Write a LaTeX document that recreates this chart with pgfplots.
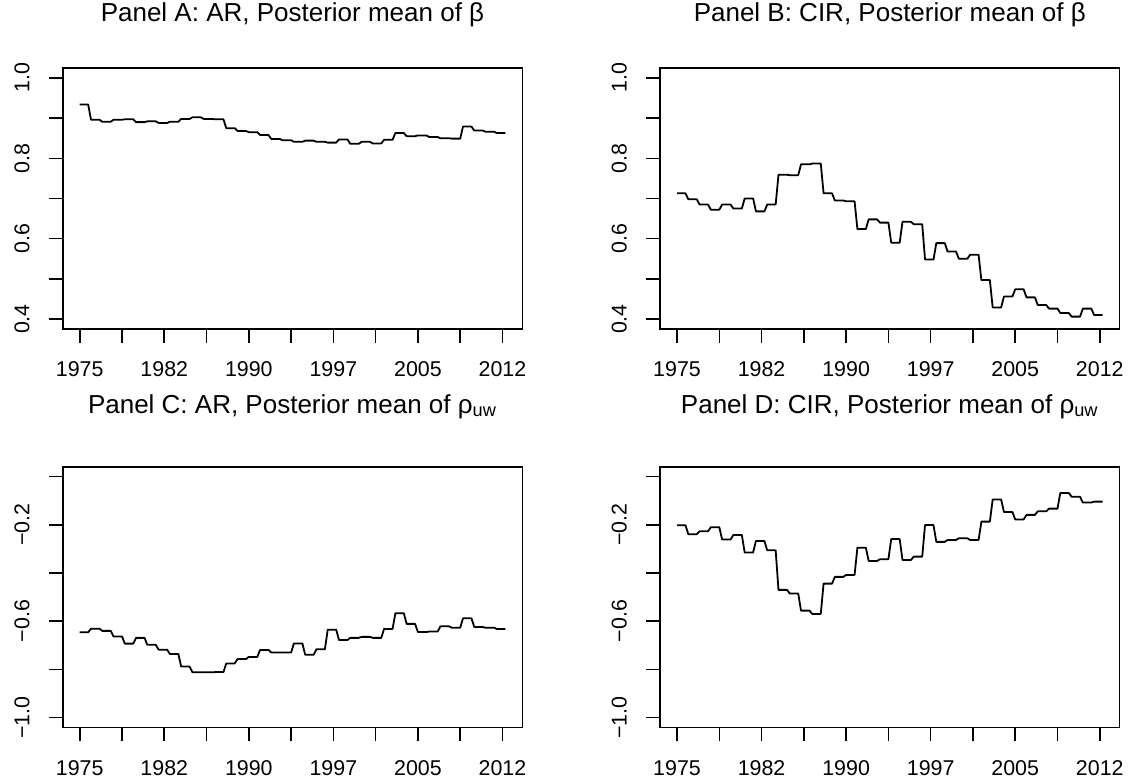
\documentclass[border=0pt]{standalone}
\usepackage{fontspec}
\setmainfont{Liberation Sans}
\usepackage{pgfplots}
\pgfplotsset{compat=1.18}
\usepackage{pgfplotstable}

% quarterly index 1..152 (1975Q1-2012Q4), posterior means change once a year
\pgfplotstableread{
x y
1 0.934
4 0.934
5 0.896
8 0.896
9 0.891
12 0.891
13 0.896
16 0.896
17 0.897
20 0.897
21 0.890
24 0.890
25 0.892
28 0.892
29 0.888
32 0.888
33 0.891
36 0.891
37 0.898
40 0.898
41 0.902
44 0.902
45 0.898
48 0.898
49 0.897
52 0.897
53 0.875
56 0.875
57 0.868
60 0.868
61 0.865
64 0.865
65 0.858
68 0.858
69 0.848
72 0.848
73 0.845
76 0.845
77 0.841
80 0.841
81 0.844
84 0.844
85 0.841
88 0.841
89 0.839
92 0.839
93 0.847
96 0.847
97 0.836
100 0.836
101 0.841
104 0.841
105 0.837
108 0.837
109 0.846
112 0.846
113 0.863
116 0.863
117 0.855
120 0.855
121 0.857
124 0.857
125 0.853
128 0.853
129 0.850
132 0.850
133 0.849
136 0.849
137 0.879
140 0.879
141 0.869
144 0.869
145 0.866
148 0.866
149 0.863
152 0.863
}\arbeta

\pgfplotstableread{
x y
1 0.713
4 0.713
5 0.698
8 0.698
9 0.685
12 0.685
13 0.672
16 0.672
17 0.685
20 0.685
21 0.675
24 0.675
25 0.700
28 0.700
29 0.668
32 0.668
33 0.685
36 0.685
37 0.759
40 0.759
41 0.758
44 0.758
45 0.785
48 0.785
49 0.787
52 0.787
53 0.713
56 0.713
57 0.695
60 0.695
61 0.693
64 0.693
65 0.624
68 0.624
69 0.648
72 0.648
73 0.640
76 0.640
77 0.590
80 0.590
81 0.642
84 0.642
85 0.636
88 0.636
89 0.548
92 0.548
93 0.589
96 0.589
97 0.568
100 0.568
101 0.550
104 0.550
105 0.560
108 0.560
109 0.497
112 0.497
113 0.429
116 0.429
117 0.456
120 0.456
121 0.474
124 0.474
125 0.454
128 0.454
129 0.435
132 0.435
133 0.426
136 0.426
137 0.415
140 0.415
141 0.406
144 0.406
145 0.426
148 0.426
149 0.410
152 0.410
}\cirbeta

\pgfplotstableread{
x y
1 -0.646
4 -0.646
5 -0.631
8 -0.631
9 -0.640
12 -0.640
13 -0.663
16 -0.663
17 -0.693
20 -0.693
21 -0.669
24 -0.669
25 -0.698
28 -0.698
29 -0.718
32 -0.718
33 -0.736
36 -0.736
37 -0.788
40 -0.788
41 -0.812
44 -0.812
45 -0.812
48 -0.812
49 -0.811
52 -0.811
53 -0.775
56 -0.775
57 -0.757
60 -0.757
61 -0.748
64 -0.748
65 -0.719
68 -0.719
69 -0.730
72 -0.730
73 -0.730
76 -0.730
77 -0.692
80 -0.692
81 -0.739
84 -0.739
85 -0.716
88 -0.716
89 -0.635
92 -0.635
93 -0.678
96 -0.678
97 -0.669
100 -0.669
101 -0.665
104 -0.665
105 -0.669
108 -0.669
109 -0.632
112 -0.632
113 -0.567
116 -0.567
117 -0.611
120 -0.611
121 -0.645
124 -0.645
125 -0.643
128 -0.643
129 -0.621
132 -0.621
133 -0.627
136 -0.627
137 -0.588
140 -0.588
141 -0.624
144 -0.624
145 -0.627
148 -0.627
149 -0.632
152 -0.632
}\arrho

\pgfplotstableread{
x y
1 -0.202
4 -0.202
5 -0.239
8 -0.239
9 -0.227
12 -0.227
13 -0.210
16 -0.210
17 -0.261
20 -0.261
21 -0.242
24 -0.242
25 -0.315
28 -0.315
29 -0.267
32 -0.267
33 -0.306
36 -0.306
37 -0.470
40 -0.470
41 -0.485
44 -0.485
45 -0.556
48 -0.556
49 -0.570
52 -0.570
53 -0.444
56 -0.444
57 -0.416
60 -0.416
61 -0.408
64 -0.408
65 -0.295
68 -0.295
69 -0.350
72 -0.350
73 -0.343
76 -0.343
77 -0.259
80 -0.259
81 -0.346
84 -0.346
85 -0.332
88 -0.332
89 -0.201
92 -0.201
93 -0.271
96 -0.271
97 -0.263
100 -0.263
101 -0.256
104 -0.256
105 -0.263
108 -0.263
109 -0.187
112 -0.187
113 -0.095
116 -0.095
117 -0.147
120 -0.147
121 -0.178
124 -0.178
125 -0.159
128 -0.159
129 -0.144
132 -0.144
133 -0.133
136 -0.133
137 -0.068
140 -0.068
141 -0.084
144 -0.084
145 -0.108
148 -0.108
149 -0.104
152 -0.104
}\cirrho

\pgfplotsset{
  rpanel/.style={
    scale only axis,
    width=229.8pt, height=130.2pt,
    anchor=south west,
    xmin=-5.04, xmax=158.04,
    xtick={1,16,31,46,61,76,91,106,121,136,151},
    xticklabels={1975,,1982,,1990,,1997,,2005,,2012},
    tick align=outside,
    xtick pos=bottom, ytick pos=left,
    major tick length=7pt,
    axis line style={line width=0.8pt},
    every tick/.style={black, line width=0.8pt},
    tick label style={font=\fontsize{10.7}{12}\selectfont},
    xticklabel style={anchor=north, yshift=-6pt},
    % rotated labels: yshift acts sideways after the rotation
    yticklabel style={rotate=90, anchor=south, yshift=6pt},
    title style={font=\fontsize{13}{15}\selectfont, anchor=base, at={(0.5,1)}},
  },
  betapanel/.style={
    rpanel, ymin=0.376, ymax=1.024,
    ytick={0.4,0.5,0.6,0.7,0.8,0.9,1.0},
    yticklabels={0.4,,0.6,,0.8,,1.0},
    title style={yshift=17.5pt},
  },
  rhopanel/.style={
    rpanel, ymin=-1.04, ymax=0.04,
    ytick={-1.0,-0.8,-0.6,-0.4,-0.2,0},
    yticklabels={−1.0,,−0.6,,−0.2,},
    title style={yshift=20.85pt},
  },
  rline/.style={black, line width=0.9pt, line join=round},
}

\begin{document}
\begin{tikzpicture}
\path[use as bounding box] (0,0) rectangle (564pt,389pt);

\begin{axis}[betapanel, at={(31.35pt,224.65pt)},
  title={Panel A: AR, Posterior mean of β}]
\addplot[rline] table {\arbeta};
\end{axis}

\begin{axis}[betapanel, at={(330pt,224.65pt)},
  title={Panel B: CIR, Posterior mean of β}]
\addplot[rline] table {\cirbeta};
\end{axis}

\begin{axis}[rhopanel, at={(31.35pt,25.35pt)},
  title={Panel C: AR, Posterior mean of ρ\textsubscript{uw}}]
\addplot[rline] table {\arrho};
\end{axis}

\begin{axis}[rhopanel, at={(330pt,25.35pt)},
  title={Panel D: CIR, Posterior mean of ρ\textsubscript{uw}}]
\addplot[rline] table {\cirrho};
\end{axis}
\end{tikzpicture}
\end{document}
